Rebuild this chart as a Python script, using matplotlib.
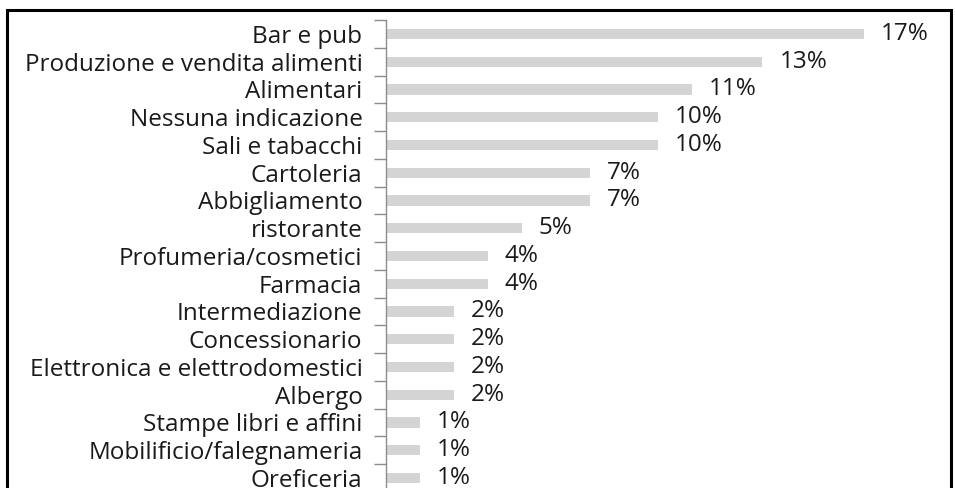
import matplotlib
matplotlib.use('Agg')
import matplotlib.pyplot as plt
from matplotlib.patches import Rectangle

categories = [
    "Bar e pub", "Produzione e vendita alimenti", "Alimentari",
    "Nessuna indicazione", "Sali e tabacchi", "Cartoleria", "Abbigliamento",
    "ristorante", "Profumeria/cosmetici", "Farmacia", "Intermediazione",
    "Concessionario", "Elettronica e elettrodomestici", "Albergo",
    "Stampe libri e affini", "Mobilificio/falegnameria", "Oreficeria",
]
values = [16.9, 13.3, 10.8, 9.6, 9.6, 7.2, 7.2, 4.8, 3.6, 3.6,
          2.4, 2.4, 2.4, 2.4, 1.2, 1.2, 1.2]
labels = ["17%", "13%", "11%", "10%", "10%", "7%", "7%", "5%", "4%", "4%",
          "2%", "2%", "2%", "2%", "1%", "1%", "1%"]

plt.rcParams['font.family'] = ['Open Sans', 'DejaVu Sans']

W, H = 955, 488
fig = plt.figure(figsize=(W / 100, H / 100), dpi=100)

# axes: left at x=386, top at y=20, runs past the bottom of the picture
ax = fig.add_axes([386 / W, 0, 560 / W, (H - 20) / H])
ypos = list(range(len(categories)))
ax.barh(ypos, values, height=0.37, color='#d4d4d4', edgecolor='none')
for y, v, lab in zip(ypos, values, labels):
    ax.text(v + 0.6, y, lab, va='center', ha='left', fontsize=17.5, color='#1a1a1a')

ax.set_ylim(16.36, -0.5)
ax.set_xlim(0, 560 / 28.3)
ax.set_yticks(ypos)
ax.set_yticklabels(categories, fontsize=17.5, color='#1a1a1a')
ax.set_yticks([y - 0.5 for y in ypos], minor=True)
ax.tick_params(axis='y', which='major', length=0, pad=17)
ax.tick_params(axis='y', which='minor', length=9, width=1, color='#8c8c8c')
ax.set_xticks([])
for s in ['top', 'right', 'bottom']:
    ax.spines[s].set_visible(False)
ax.spines['left'].set_color('#8c8c8c')
ax.spines['left'].set_linewidth(1)

# outer frame of the picture (bottom edge is cut off)
fig.patches.append(Rectangle((6.5 / W, -0.05), (951 - 6.5) / W, (H - 10) / H + 0.05,
                             transform=fig.transFigure, fill=False,
                             edgecolor='black', linewidth=2.2))

fig.savefig('out.png', dpi=100)
